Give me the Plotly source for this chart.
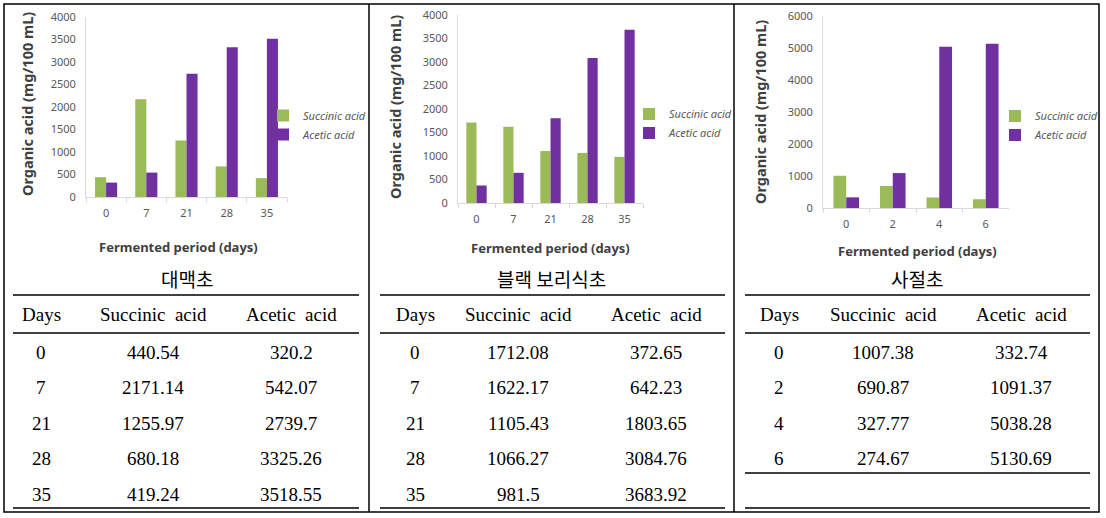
import plotly.graph_objects as go

# ---------------- data ----------------
titles = ["대맥초", "블랙 보리식초", "사절초"]
series_names = ["Succinic acid", "Acetic acid"]
col_headers = ["Days", "Succinic acid", "Acetic acid"]

days_1 = ["0", "7", "21", "28", "35"]
succinic_1 = [440.54, 2171.14, 1255.97, 680.18, 419.24]
acetic_1 = [320.2, 542.07, 2739.7, 3325.26, 3518.55]

days_2 = ["0", "7", "21", "28", "35"]
succinic_2 = [1712.08, 1622.17, 1105.43, 1066.27, 981.5]
acetic_2 = [372.65, 642.23, 1803.65, 3084.76, 3683.92]

days_3 = ["0", "2", "4", "6"]
succinic_3 = [1007.38, 690.87, 327.77, 274.67]
acetic_3 = [332.74, 1091.37, 5038.28, 5130.69]

y_max = [4000, 4000, 6000]
y_step = [500, 500, 1000]

y_title = "Organic acid (mg/100 mL)"
x_title = "Fermented period (days)"

# ---------------- layout helpers ----------------
W, H = 1106, 518
def px(x): return x / W
def py(y): return 1 - y / H

GREEN = "#9BBB59"
PURPLE = "#7030A0"
AXIS_GRAY = "#D9D9D9"
TICK_GRAY = "#595959"
TITLE_GRAY = "#404040"
SANS = "Noto Sans"
SERIF = "Liberation Serif"
KR = "Noto Sans CJK KR"

panels = [
    dict(days=days_1, s=succinic_1, a=acetic_1, left=4, right=369,
         plot=(86, 287, 17, 197), ytitle=(27, 104), xtitle=(178, 247),
         legend=(263, 101), tline=(13, 359), cols=(41, 153, 291)),
    dict(days=days_2, s=succinic_2, a=acetic_2, left=369, right=734,
         plot=(458, 643, 15, 203), ytitle=(395, 107), xtitle=(550, 248),
         legend=(629, 99.5), tline=(380, 725), cols=(415, 518, 656)),
    dict(days=days_3, s=succinic_3, a=acetic_3, left=734, right=1099,
         plot=(823, 1009, 16, 208), ytitle=(760, 112), xtitle=(917, 251),
         legend=(995, 101.5), tline=(745, 1090), cols=(779, 883, 1021)),
]

fig = go.Figure()
annotations = []
shapes = []
layout_extra = {}

for i, p in enumerate(panels):
    n = i + 1
    xa = "x" if n == 1 else f"x{n}"
    ya = "y" if n == 1 else f"y{n}"
    leg = "legend" if n == 1 else f"legend{n}"
    x0, x1, y0, y1 = p["plot"]

    fig.add_trace(go.Bar(x=p["days"], y=p["s"], name=series_names[0],
                         marker=dict(color=GREEN, line=dict(width=0)),
                         xaxis=xa, yaxis=ya, legend=leg))
    fig.add_trace(go.Bar(x=p["days"], y=p["a"], name=series_names[1],
                         marker=dict(color=PURPLE, line=dict(width=0)),
                         xaxis=xa, yaxis=ya, legend=leg))

    xkey = "xaxis" if n == 1 else f"xaxis{n}"
    ykey = "yaxis" if n == 1 else f"yaxis{n}"
    layout_extra[xkey] = dict(
        domain=[px(x0), px(x1)], anchor=ya, type="category", automargin=False,
        showline=True, linecolor=AXIS_GRAY, linewidth=1,
        ticks="outside", tickson="boundaries", ticklen=4, tickcolor=AXIS_GRAY,
        tickfont=dict(family=SANS, size=11, color=TICK_GRAY),
        ticklabelstandoff=6, showgrid=False, zeroline=False, fixedrange=True)
    layout_extra[ykey] = dict(
        domain=[py(y1), py(y0)], anchor=xa, range=[0, y_max[i]], automargin=False,
        tick0=0, dtick=y_step[i], showline=True, linecolor=AXIS_GRAY,
        linewidth=1, ticks="", showgrid=False, zeroline=False,
        tickfont=dict(family=SANS, size=11, color=TICK_GRAY),
        ticklabelstandoff=7, fixedrange=True)
    lx, ly = p["legend"]
    layout_extra[leg] = dict(
        x=px(lx), y=py(ly), xanchor="left", yanchor="top",
        bgcolor="rgba(0,0,0,0)", borderwidth=0, tracegroupgap=0,
        font=dict(family=SANS, size=11, color=TICK_GRAY, style="italic"))

    # axis titles
    tx, ty = p["ytitle"]
    annotations.append(dict(x=px(tx), y=py(ty), xref="paper", yref="paper",
                            text=f"<b>{y_title}</b>", textangle=-90, showarrow=False,
                            font=dict(family=SANS, size=14.5, color=TITLE_GRAY),
                            xanchor="center", yanchor="middle"))
    tx, ty = p["xtitle"]
    annotations.append(dict(x=px(tx), y=py(ty), xref="paper", yref="paper",
                            text=f"<b>{x_title}</b>", showarrow=False,
                            font=dict(family=SANS, size=13, color=TITLE_GRAY),
                            xanchor="center", yanchor="middle"))
    # Korean title
    cx = (p["left"] + p["right"]) / 2
    annotations.append(dict(x=px(cx), y=py(278), xref="paper", yref="paper",
                            text=titles[i], showarrow=False,
                            font=dict(family=KR, size=19, color="black"),
                            xanchor="center", yanchor="middle"))

    # table
    tl0, tl1 = p["tline"]
    for yy in (295, 333, 508):
        shapes.append(dict(type="line", xref="paper", yref="paper",
                           x0=px(tl0), x1=px(tl1), y0=py(yy), y1=py(yy),
                           line=dict(color="black", width=1.3)))
    if len(p["days"]) < 5:
        shapes.append(dict(type="line", xref="paper", yref="paper",
                           x0=px(tl0), x1=px(tl1), y0=py(473), y1=py(473),
                           line=dict(color="black", width=1.3)))
    for c, hdr in zip(p["cols"], col_headers):
        annotations.append(dict(x=px(c), y=py(314), xref="paper", yref="paper",
                                text=hdr.replace(" ", "\u2002"), showarrow=False,
                                font=dict(family=SERIF, size=19, color="black"),
                                xanchor="center", yanchor="middle"))
    for r, (d, s, a) in enumerate(zip(p["days"], p["s"], p["a"])):
        ry = 352 + 35.6 * r
        for c, val in zip(p["cols"], (d, str(s), str(a))):
            annotations.append(dict(x=px(c), y=py(ry), xref="paper", yref="paper",
                                    text=val, showarrow=False,
                                    font=dict(family=SERIF, size=19, color="black"),
                                    xanchor="center", yanchor="middle"))

# outer frame and dividers
shapes.append(dict(type="rect", xref="paper", yref="paper",
                   x0=px(4), x1=px(1099), y0=py(512), y1=py(4),
                   line=dict(color="black", width=1.5)))
for dx in (369, 734):
    shapes.append(dict(type="line", xref="paper", yref="paper",
                       x0=px(dx), x1=px(dx), y0=py(512), y1=py(4),
                       line=dict(color="black", width=1.5)))

fig.update_layout(
    template="none",
    width=W, height=H, autosize=False,
    margin=dict(l=0, r=0, t=0, b=0, pad=0),
    paper_bgcolor="white", plot_bgcolor="white",
    barmode="group", bargap=0.45, bargroupgap=0,
    showlegend=True, hovermode=False,
    annotations=annotations, shapes=shapes,
    **layout_extra)

fig.write_html(
    "out.html",
    config={"displayModeBar": False, "staticPlot": True},
    post_script=("document.documentElement.style.margin='0';"
                 "document.documentElement.style.overflow='hidden';"
                 "document.body.style.margin='0';"
                 "document.body.style.overflow='hidden';"))
